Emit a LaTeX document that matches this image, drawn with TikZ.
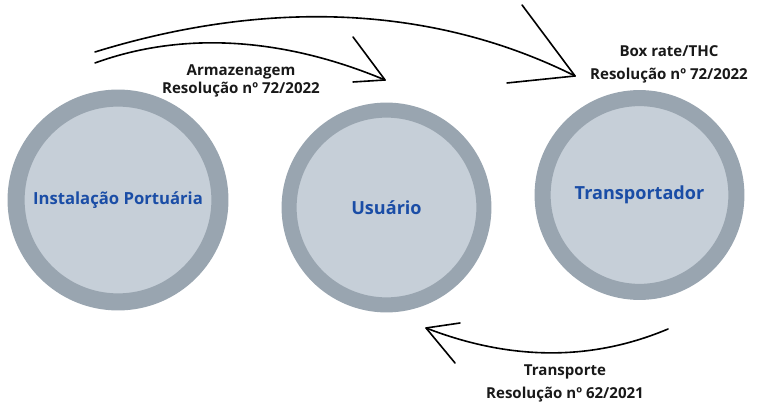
\documentclass[tikz,border=0pt]{standalone}
\usepackage{fontspec}
\setmainfont{Open Sans}
\definecolor{ringgrey}{HTML}{99A5B0}
\definecolor{discfill}{HTML}{C6CFD8}
\definecolor{nameblue}{HTML}{1A4DA6}
\begin{document}
\begin{tikzpicture}[xscale=0.35,yscale=0.35,
    disc/.style={circle,draw=ringgrey,fill=discfill,text=nameblue,font=\bfseries\fontsize{18}{20}\selectfont},
    lbl/.style={align=center,text=black!90,font=\bfseries\fontsize{15}{23}\selectfont},
    stroke/.style={line width=1.6pt,line cap=round,line join=round}]
    \useasboundingbox (0,0) rectangle (75.7,40.5);
    \node[disc,line width=17pt,minimum size=203pt,font=\bfseries\fontsize{16.6}{20}\selectfont] (porto) at (11.8,20.5) {Instalação Portuária};
    \node[disc,line width=15pt,minimum size=194pt] (usuario) at (38.65,19.75) {Usuário};
    \node[disc,line width=16pt,minimum size=193pt] (transp) at (63.95,21.0) {Transportador};
    \coordinate (arm0) at (9.5,34.2);
    \coordinate (arm1) at (38.5,32.5);
    \coordinate (armup) at (35.3,36.8);
    \coordinate (armlo) at (35.3,32.3);
    \coordinate (box0) at (9.5,35.3);
    \coordinate (box1) at (57.5,32.9);
    \coordinate (boxup) at (52.2,40.0);
    \coordinate (boxlo) at (50.7,32.2);
    \coordinate (tra0) at (66.8,7.6);
    \coordinate (tra1) at (42.6,7.7);
    \coordinate (traup) at (46.0,8.2);
    \coordinate (tralo) at (45.5,4.2);
    \draw[stroke] (arm0) .. controls (18.0,37.3) and (28.0,36.9) .. (arm1);
    \draw[stroke] (armup) -- (arm1) -- (armlo);
    \draw[stroke] (box0) .. controls (27.0,40.7) and (43.5,39.9) .. (box1);
    \draw[stroke] (boxup) -- (box1) -- (boxlo);
    \draw[stroke] (tra0) .. controls (59.2,4.4) and (51.1,4.4) .. (tra1);
    \draw[stroke] (traup) -- (tra1) -- (tralo);
    \node[lbl,font=\bfseries\fontsize{15}{18}\selectfont] (armlbl) at (24.1,32.45) {Armazenagem\\Resolução nº 72/2022};
    \node[lbl] (boxlbl) at (66.9,34.1) {Box rate/THC\\Resolução nº 72/2022};
    \node[lbl] (tralbl) at (56.5,2.15) {Transporte\\Resolução nº 62/2021};
\end{tikzpicture}
\end{document}
